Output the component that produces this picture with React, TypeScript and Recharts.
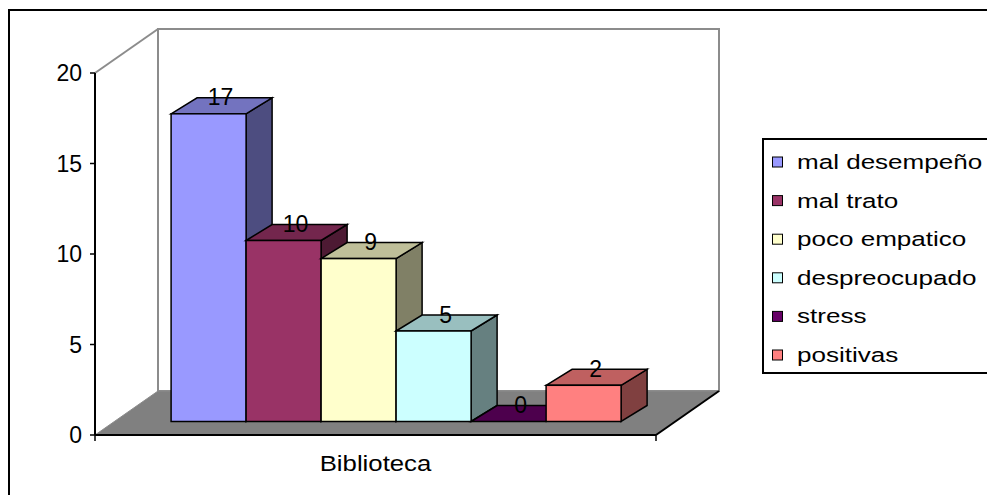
import {Bar, BarChart, LabelList, Legend, XAxis, YAxis} from 'recharts';

const CATEGORIES = ['Biblioteca'];
const SERIES = ['mal desempeño', 'mal trato', 'poco empatico', 'despreocupado', 'stress', 'positivas'];
const VALUES = [17, 10, 9, 5, 0, 2];
const Y_TICKS = [0, 5, 10, 15, 20];

// face colours: front, top (shaded), side (darker)
const FRONT = ['#9999FF', '#993366', '#FFFFCC', '#CCFFFF', '#660066', '#FF8080'];
const TOP = ['#7373BF', '#73264D', '#BFBF99', '#99BFBF', '#4D004D', '#BF6060'];
const SIDE = ['#4D4D80', '#4D1A33', '#808066', '#668080', '#330033', '#804040'];

const FONT = '"Liberation Sans", Arial, sans-serif';

// plot box (front plane) and the 3D depth of the walls
const W = 987;
const H = 495;
const PL = 95;
const PR = 656;
const PT = 73;
const PB = 435;
const DEPTH_X = 63;
const DEPTH_Y = -44;
// bars sit part way into the floor, with their own thickness
const BAR_X0 = 20;
const BAR_Y0 = -13.5;
const BAR_DX = 26;
const BAR_DY = -16;

const data = CATEGORIES.map((category) => {
    const row: Record<string, string | number> = {category};
    SERIES.forEach((_s, i) => {
        row[`s${i}`] = VALUES[i];
    });
    return row;
});

function boxShape(i: number) {
    return (props: any) => {
        const {x, y, width, height} = props;
        const fx = x + BAR_X0;
        const fy = y + BAR_Y0;
        const fb = y + Math.max(height, 0) + BAR_Y0;
        const fr = fx + width;
        const stroke = {stroke: '#000', strokeWidth: 1.5, strokeLinejoin: 'miter' as const};
        return (
            <g>
                <polygon
                    points={`${fr},${fy} ${fr + BAR_DX},${fy + BAR_DY} ${fr + BAR_DX},${fb + BAR_DY} ${fr},${fb}`}
                    fill={SIDE[i]}
                    {...stroke}
                />
                <polygon
                    points={`${fx},${fy} ${fx + BAR_DX},${fy + BAR_DY} ${fr + BAR_DX},${fy + BAR_DY} ${fr},${fy}`}
                    fill={TOP[i]}
                    {...stroke}
                />
                {fb - fy > 0 && <rect x={fx} y={fy} width={width} height={fb - fy} fill={FRONT[i]} {...stroke}/>}
            </g>
        );
    };
}

function valueLabel(props: any) {
    const {x, y, width, value} = props;
    return (
        <text
            x={x + width / 2 + BAR_X0 + 12}
            y={y + BAR_Y0 - 8.5}
            textAnchor="middle"
            fontFamily={FONT}
            fontSize={23}
            fill="#000"
        >
            {value}
        </text>
    );
}

function CategoryTick(props: any) {
    const {x, y, payload} = props;
    return (
        <text
            x={x}
            y={y + 36}
            textAnchor="middle"
            fontFamily={FONT}
            fontSize={23}
            fill="#000"
            transform={`translate(${x} 0) scale(1.12 1) translate(${-x} 0)`}
        >
            {payload.value}
        </text>
    );
}

function LegendBox() {
    const rowGap = 38.6;
    return (
        <svg width={240} height={236} style={{display: 'block'}}>
            <rect x={1} y={1} width={250} height={234} fill="#fff" stroke="#000" strokeWidth={2}/>
            {SERIES.map((name, i) => {
                const cy = 24 + i * rowGap;
                return (
                    <g key={name}>
                        <rect x={10.5} y={cy - 5} width={10} height={10} fill={FRONT[i]} stroke="#000" strokeWidth={1}/>
                        <text
                            x={35 / 1.27}
                            y={cy + 7}
                            fontFamily={FONT}
                            fontSize={20.5}
                            fill="#000"
                            transform="scale(1.27 1)"
                        >
                            {name}
                        </text>
                    </g>
                );
            })}
        </svg>
    );
}

function Walls() {
    const bx = PL + DEPTH_X;
    const bt = PT + DEPTH_Y;
    const bb = PB + DEPTH_Y;
    const br = PR + DEPTH_X;
    return (
        <svg width={W} height={H} style={{position: 'absolute', left: 0, top: 0}}>
            <rect x={9} y={10} width={1000} height={500} fill="#fff" stroke="#000" strokeWidth={2}/>
            <polygon points={`${bx},${bt} ${br},${bt} ${br},${bb} ${bx},${bb}`} fill="#fff" stroke="#8c8c8c" strokeWidth={2}/>
            <line x1={PL} y1={PT} x2={bx} y2={bt} stroke="#8c8c8c" strokeWidth={2}/>
            <polygon points={`${PL},${PB} ${bx},${bb} ${br},${bb} ${PR},${PB}`} fill="#808080" stroke="#8c8c8c" strokeWidth={1}/>
            <line x1={PR} y1={PB} x2={br} y2={bb} stroke="#000" strokeWidth={2}/>
            <line x1={PL} y1={PB} x2={PL} y2={PB + 6} stroke="#000" strokeWidth={1.5}/>
            <line x1={PR} y1={PB} x2={PR} y2={PB + 6} stroke="#000" strokeWidth={1.5}/>
        </svg>
    );
}

export default function App() {
    return (
        <div style={{position: 'absolute', left: 0, top: 0, width: W, height: H, overflow: 'hidden', background: '#fff'}}>
            <Walls/>
            <div style={{position: 'absolute', left: 0, top: 0}}>
                <BarChart
                    width={W}
                    height={H}
                    data={data}
                    margin={{top: PT, right: W - PR, bottom: 0, left: 0}}
                    barCategoryGap="10%"
                    barGap={0}
                >
                    <XAxis
                        dataKey="category"
                        height={H - PB}
                        axisLine={{stroke: '#000', strokeWidth: 2}}
                        tickLine={false}
                        tickSize={0}
                        tickMargin={0}
                        tick={CategoryTick}
                    />
                    <YAxis
                        width={PL}
                        domain={[0, 20]}
                        ticks={Y_TICKS}
                        interval={0}
                        axisLine={{stroke: '#000', strokeWidth: 2}}
                        tickLine={{stroke: '#000', strokeWidth: 1.5}}
                        tickSize={5}
                        tickMargin={8}
                        tick={{fill: '#000', fontSize: 23, fontFamily: FONT}}
                    />
                    <Legend
                        layout="horizontal"
                        align="center"
                        verticalAlign="middle"
                        wrapperStyle={{left: 762, top: 138, width: 240, height: 236}}
                        content={LegendBox}
                    />
                    {SERIES.map((name, i) => (
                        <Bar
                            key={name}
                            dataKey={`s${i}`}
                            name={name}
                            fill={FRONT[i]}
                            isAnimationActive={false}
                            shape={boxShape(i)}
                        >
                            <LabelList dataKey={`s${i}`} content={valueLabel}/>
                        </Bar>
                    ))}
                </BarChart>
            </div>
        </div>
    );
}
